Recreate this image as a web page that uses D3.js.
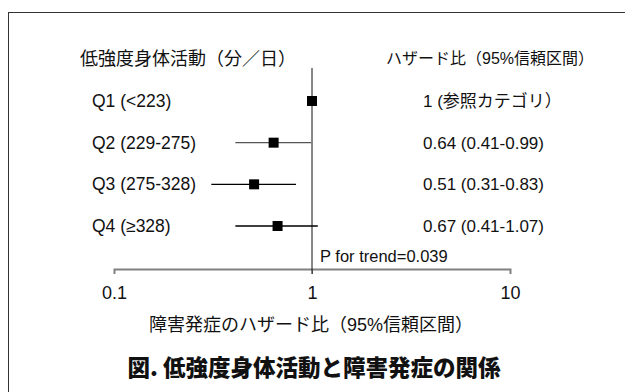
<!DOCTYPE html>
<html>
<head>
<meta charset="utf-8">
<script src="https://cdn.jsdelivr.net/npm/d3@7/dist/d3.min.js"></script>
<style>
  html, body { margin: 0; padding: 0; background: #fff; }
  svg { display: block; }
  text { font-family: "Liberation Sans", Arial, "Noto Sans CJK JP", sans-serif; fill: #111; }
</style>
</head>
<body>
<svg id="chart" width="625" height="392"></svg>
<script>
// ---- data ----
const categories = ["Q1 (<223)", "Q2 (229-275)", "Q3 (275-328)", "Q4 (≥328)"];
const hazardRatio = [1, 0.64, 0.51, 0.67];
const ciLower = [null, 0.41, 0.31, 0.41];
const ciUpper = [null, 0.99, 0.83, 1.07];
const hrLabels = ["1 (参照カテゴリ）", "0.64 (0.41-0.99)", "0.51 (0.31-0.83)", "0.67 (0.41-1.07)"];
const tickValues = [0.1, 1, 10];
const tickLabels = ["0.1", "1", "10"];
const leftHeader = "低強度身体活動（分／日）";
const rightHeader = "ハザード比（95%信頼区間）";
const trendText = "P for trend=0.039";
const axisTitle = "障害発症のハザード比（95%信頼区間）";
const caption = "図. 低強度身体活動と障害発症の関係";
const lineColors = ["#000", "#555", "#000", "#000"];

const svg = d3.select("#chart");

// frame
svg.append("rect")
  .attr("x", 8.5).attr("y", 12.5)
  .attr("width", 700).attr("height", 500)
  .attr("fill", "none").attr("stroke", "#333").attr("stroke-width", 1);

const x = d3.scaleLog().domain([0.1, 10]).range([114, 510]);
const y = d3.scalePoint().domain(categories).range([101, 226]);

// axis
const axisY = 269;
const axis = d3.axisBottom(x).tickValues(tickValues).tickSize(5).tickSizeOuter(5)
  .tickFormat((d, i) => tickLabels[i]);
const gAxis = svg.append("g").attr("transform", `translate(0,${axisY})`).call(axis);
gAxis.select(".domain").attr("stroke", "#808080").attr("stroke-width", 2);
gAxis.selectAll(".tick line").attr("stroke", "#808080").attr("stroke-width", 1);
gAxis.selectAll(".tick text")
  .attr("y", 0).attr("dy", null)
  .attr("transform", "translate(0,30)")
  .style("font-family", "'Liberation Sans', Arial, sans-serif")
  .style("font-size", "18px").attr("fill", "#111");

// reference line at HR=1
svg.append("line")
  .attr("x1", x(1)).attr("x2", x(1))
  .attr("y1", 68).attr("y2", 274)
  .attr("stroke", "#111").attr("stroke-width", 1);

// CI lines
const rows = categories.map((c, i) => ({c, hr: hazardRatio[i], lo: ciLower[i], hi: ciUpper[i], lab: hrLabels[i], col: lineColors[i]}));
svg.selectAll("line.ci").data(rows.filter(d => d.lo != null)).enter().append("line")
  .attr("class", "ci")
  .attr("x1", d => x(d.lo)).attr("x2", d => x(d.hi))
  .attr("y1", d => y(d.c)).attr("y2", d => y(d.c))
  .attr("stroke", d => d.col).attr("stroke-width", 1.3);

// points
const sq = 10;
svg.selectAll("rect.pt").data(rows).enter().append("rect")
  .attr("class", "pt")
  .attr("x", d => x(d.hr) - sq / 2).attr("y", d => y(d.c) - sq / 2)
  .attr("width", sq).attr("height", sq).attr("fill", "#000");

// category labels
svg.selectAll("text.cat").data(rows).enter().append("text")
  .attr("class", "cat")
  .attr("x", 92).attr("y", d => y(d.c) + 6)
  .style("font-size", "17.5px").text(d => d.c);

// HR labels
svg.selectAll("text.hr").data(rows).enter().append("text")
  .attr("class", "hr")
  .attr("x", 423).attr("y", d => y(d.c) + 6)
  .style("font-size", "17px").text(d => d.lab);

// headers
svg.append("text").attr("x", 80).attr("y", 65)
  .style("font-family", "'Noto Sans CJK JP', sans-serif")
  .style("font-size", "18px").text(leftHeader);
svg.append("text").attr("x", 386).attr("y", 64)
  .style("font-family", "'Liberation Sans', Arial, 'Noto Sans CJK JP', sans-serif")
  .style("font-size", "16px").text(rightHeader);

// trend
svg.append("text").attr("x", 320).attr("y", 262)
  .style("font-size", "16.5px").text(trendText);

// axis title
svg.append("text").attr("x", 311).attr("y", 331).attr("text-anchor", "middle")
  .style("font-family", "'Liberation Sans', Arial, 'Noto Sans CJK JP', sans-serif")
  .style("font-size", "18px").text(axisTitle);

// caption
svg.append("text").attr("x", 314).attr("y", 376).attr("text-anchor", "middle")
  .style("font-family", "'Noto Sans CJK JP', sans-serif")
  .style("font-weight", "900")
  .style("font-size", "22.5px").text(caption);
</script>
</body>
</html>
